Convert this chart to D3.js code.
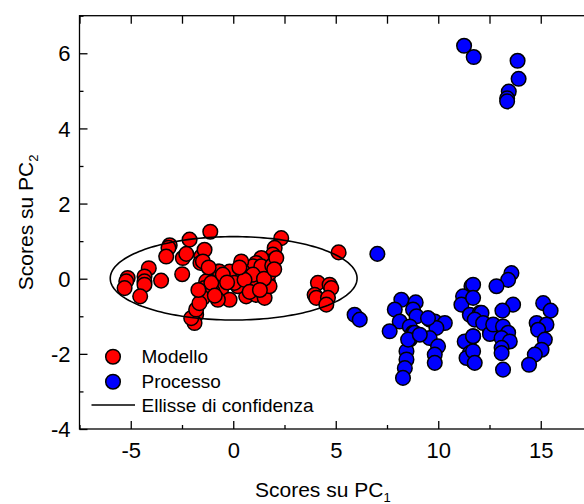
<!DOCTYPE html>
<html>
<head>
<meta charset="utf-8">
<script src="https://cdn.jsdelivr.net/npm/d3@7"></script>
<style>
  html, body { margin: 0; padding: 0; background: #fff; }
  svg { display: block; font-family: "Liberation Sans", Arial, sans-serif; }
</style>
</head>
<body>
<svg id="chart" width="584" height="504"></svg>
<script>
// PCA scores: PC1 / PC2 for the model set and the process set
const modelloPC1 = [
  -1.12, -2.13, -3.10, -3.16, -3.27, -2.46, -2.29, -1.56, -1.40, -1.60, -1.48,
  -4.12, -4.33, -4.33, -4.33, -5.15, -5.22, -5.30, -4.54, -3.52, -2.49,
  -1.81, -1.89, -2.05, -1.81, -0.75,
  2.34, 2.02, 1.93, 1.77, 1.37, 1.12, 0.96, 0.39, 0.47, 0.22, -0.18, -0.67,
  -1.32, -1.40, -0.75, -0.59, -1.00, -0.18, 0.63, 1.12, 1.53, 1.69, 1.77,
  1.12, 0.88, 0.22, 0.06, -1.48, -1.65, -0.75, -1.07, 1.77, 1.37, 0.96, 0.55,
  -0.51, -1.20, 1.50, 0.30, -0.90, 1.90, 2.10, -1.70, 0.80, -0.30, 1.30, 2.00,
  5.14, 4.13, 4.70, 4.78, 3.97, 4.05, 4.62, 4.54
];
const modelloPC2 = [
  1.25, 1.04, 0.89, 0.82, 0.59, 0.55, 0.66, 0.59, 0.77, 0.42, 0.46,
  0.28, 0.06, -0.07, -0.16, 0.02, -0.07, -0.25, -0.47, -0.05, 0.12,
  -0.96, -1.18, -1.05, -0.82, 0.19,
  1.08, 0.82, 0.64, 0.46, 0.55, 0.42, 0.33, 0.46, 0.19, 0.02, 0.19, 0.19,
  -0.07, -0.25, -0.20, -0.29, -0.34, -0.56, -0.47, -0.43, -0.51, -0.07, -0.20,
  -0.07, -0.16, -0.20, -0.11, -0.51, -0.65, -0.56, -0.11, 0.15, 0.33, 0.11, -0.03,
  0.11, 0.30, 0.00, 0.30, -0.45, 0.35, 0.55, -0.30, -0.35, -0.10, -0.30, 0.25,
  0.70, -0.11, -0.16, -0.25, -0.43, -0.51, -0.51, -0.69
];
const processoPC1 = [
  7.03, 5.92, 6.17,
  8.20, 8.90, 7.88, 8.77, 8.94, 8.12, 7.63, 8.61, 8.77, 8.61, 8.45, 8.45, 8.37, 8.28, 8.85, 8.53,
  9.58, 9.83, 10.32, 9.91, 9.58, 9.99, 9.83, 9.83, 9.10, 9.50,
  11.62, 11.21, 11.13, 11.54, 12.03, 11.29, 11.70, 11.54, 11.70, 11.38, 12.52,
  11.70, 11.70, 12.11, 11.78, 12.19, 11.70, 11.70, 11.78,
  13.57, 13.41, 12.84, 13.65, 13.13, 13.16, 12.52, 12.68, 13.16, 13.41, 13.09, 13.49, 13.09, 13.09,
  15.12, 15.48, 14.80, 15.28, 14.87, 15.20, 15.04, 14.71, 14.43,
  11.26, 11.73, 13.87, 13.92, 13.44, 13.36, 13.36
];
const processoPC2 = [
  0.66, -0.96, -1.09,
  -0.56, -0.63, -0.82, -0.82, -1.00, -1.14, -1.40, -1.27, -1.44, -1.62, -1.93, -2.15, -2.38, -2.64, -1.44, -1.62,
  -1.09, -1.14, -1.18, -1.31, -1.58, -1.80, -2.02, -2.24, -1.49, -1.05,
  -0.20, -0.47, -0.69, -0.96, -0.91, -1.67, -1.53, -1.98, -2.20, -2.11, -1.36,
  -0.16, -0.51, -0.91, -1.09, -1.18, -1.53, -1.93, -2.24,
  0.15, -0.03, -0.20, -0.69, -0.85, -2.42, -1.47, -1.22, -1.27, -1.44, -1.58, -1.67, -1.84, -1.98,
  -0.65, -0.85, -1.18, -1.22, -1.36, -1.62, -1.89, -2.02, -2.29,
  6.20, 5.90, 5.80, 5.32, 4.98, 4.80, 4.72
];

// confidence ellipse: centre and semi-axes in score units
const ellipseCentre = [0.02, 0.01];
const ellipseSemiAxes = [6.02, 1.11];

const xMajorTicks = [-5, 0, 5, 10, 15];
const xMinorTicks = [-7.5, -2.5, 2.5, 7.5, 12.5, 17.5];
const yMajorTicks = [-4, -2, 0, 2, 4, 6];
const yMinorTicks = [-3, -1, 1, 3, 5, 7];

const svg = d3.select("#chart");
const plotLeft = 79.5, plotRight = 592, plotTop = 15.7, plotBottom = 429;

const x = d3.scaleLinear().domain([-7.5, 17.5]).range([plotLeft, plotRight]);
const y = d3.scaleLinear().domain([-4, 7]).range([plotBottom, plotTop]);

const majorLen = 8, minorLen = 4;

// axes with inward ticks
function tickAxis(axisGen, transform, ticks, size, labels) {
  const g = svg.append("g").attr("transform", transform)
    .call(axisGen.tickValues(ticks).tickSizeInner(-size).tickSizeOuter(0)
      .tickFormat(labels ? d3.format("") : ""));
  g.select(".domain").remove();
  g.selectAll(".tick line").attr("stroke", "#000").attr("stroke-width", 1.3);
  return g;
}

const bx = tickAxis(d3.axisBottom(x), `translate(0,${plotBottom})`, xMajorTicks, majorLen, true);
bx.selectAll(".tick text").attr("font-size", 22).attr("fill", "#000")
  .attr("y", 13).attr("dy", "0.71em")
  .text(d => d < 0 ? "-" + Math.abs(d) : d);
tickAxis(d3.axisBottom(x), `translate(0,${plotBottom})`, xMinorTicks, minorLen, false);
tickAxis(d3.axisTop(x), `translate(0,${plotTop})`, xMajorTicks.concat(xMinorTicks), majorLen, false);

const ly = tickAxis(d3.axisLeft(y), `translate(${plotLeft},0)`, yMajorTicks, majorLen, true);
ly.selectAll(".tick text").attr("font-size", 22).attr("fill", "#000")
  .attr("x", -9).attr("dy", "0.35em")
  .text(d => d < 0 ? "-" + Math.abs(d) : d);
tickAxis(d3.axisLeft(y), `translate(${plotLeft},0)`, yMinorTicks, minorLen, false);
tickAxis(d3.axisRight(y), `translate(${plotRight},0)`, yMajorTicks, majorLen, false);
tickAxis(d3.axisRight(y), `translate(${plotRight},0)`, yMinorTicks, minorLen, false);

// frame
svg.append("rect")
  .attr("x", plotLeft).attr("y", plotTop)
  .attr("width", plotRight - plotLeft).attr("height", plotBottom - plotTop)
  .attr("fill", "none").attr("stroke", "#000").attr("stroke-width", 1.3);

// score points
function drawPoints(xs, ys, colour) {
  svg.append("g").selectAll("circle")
    .data(d3.zip(xs, ys))
    .join("circle")
    .attr("cx", d => x(d[0]))
    .attr("cy", d => y(d[1]))
    .attr("r", 7.3)
    .attr("fill", colour)
    .attr("stroke", "#000")
    .attr("stroke-width", 1.5);
}
drawPoints(modelloPC1, modelloPC2, "#ff0000");
drawPoints(processoPC1, processoPC2, "#0000ff");

// confidence ellipse
const ellipsePts = d3.range(0, 361, 2).map(a => {
  const t = a * Math.PI / 180;
  return [ellipseCentre[0] + ellipseSemiAxes[0] * Math.cos(t),
          ellipseCentre[1] + ellipseSemiAxes[1] * Math.sin(t)];
});
svg.append("path")
  .attr("d", d3.line().x(d => x(d[0])).y(d => y(d[1]))(ellipsePts))
  .attr("fill", "none").attr("stroke", "#000").attr("stroke-width", 1.6);

// legend
const legend = svg.append("g");
const legendItems = [
  { label: "Modello", type: "dot", colour: "#ff0000", cy: 356.7 },
  { label: "Processo", type: "dot", colour: "#0000ff", cy: 381.7 },
  { label: "Ellisse di confidenza", type: "line", cy: 405 }
];
legendItems.forEach(it => {
  if (it.type === "dot") {
    legend.append("circle").attr("cx", 113).attr("cy", it.cy).attr("r", 7.3)
      .attr("fill", it.colour).attr("stroke", "#000").attr("stroke-width", 1.5);
  } else {
    legend.append("line").attr("x1", 91.5).attr("x2", 135).attr("y1", it.cy).attr("y2", it.cy)
      .attr("stroke", "#000").attr("stroke-width", 1.6);
  }
  legend.append("text").attr("x", 141.5).attr("y", it.cy).attr("dy", "0.35em")
    .attr("font-size", 19).attr("fill", "#000").text(it.label);
});

// axis titles with subscripts
const xt = svg.append("text").attr("x", 255).attr("y", 497)
  .attr("font-size", 21).attr("fill", "#000");
xt.append("tspan").text("Scores su PC");
xt.append("tspan").attr("font-size", 13).attr("dy", 5).text("1");

const yt = svg.append("text")
  .attr("transform", `translate(33,${(plotTop + plotBottom) / 2}) rotate(-90)`)
  .attr("text-anchor", "middle")
  .attr("font-size", 21).attr("fill", "#000");
yt.append("tspan").text("Scores su PC");
yt.append("tspan").attr("font-size", 13).attr("dy", 5).text("2");
</script>
</body>
</html>
